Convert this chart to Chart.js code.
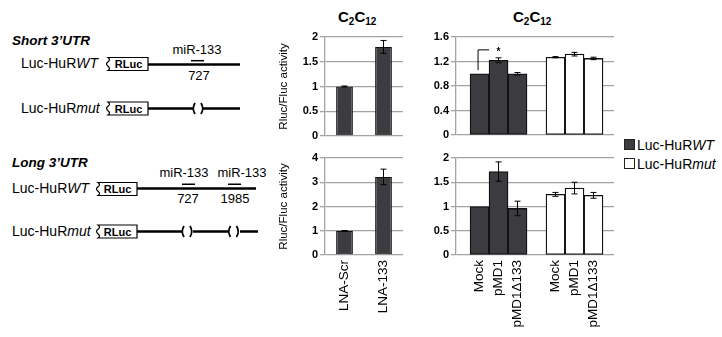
<!DOCTYPE html>
<html>
<head>
<meta charset="utf-8">
<script src="https://cdn.jsdelivr.net/npm/chart.js@4.4.1/dist/chart.umd.min.js"></script>
<style>
  body { margin: 0; background: #fff; font-family: "Liberation Sans", Arial, Helvetica, sans-serif; }
  #fig { position: relative; width: 722px; height: 337px; overflow: hidden; }
  #fig canvas, #fig svg, .title, .legend { position: absolute; }
  .title { font-size: 15px; font-weight: bold; line-height: 15px; top: 9px; }
  .title sub { font-size: 10px; vertical-align: -3px; line-height: 0; }
  .legend { left: 624px; top: 136px; font-size: 14px; line-height: 19px; white-space: nowrap; }
  .sw { display: inline-block; width: 9px; height: 9px; border: 1px solid #222; margin-right: 2px; vertical-align: baseline; }
  .sw.dark { background: #3c3c40; }
  svg text { font-family: "Liberation Sans", Arial, Helvetica, sans-serif; }
</style>
</head>
<body>
<div id="fig">
  <svg width="275" height="337" viewBox="0 0 275 337">
    <g fill="#000">
      <text x="12" y="45" font-size="13.5" font-weight="bold" font-style="italic">Short 3’UTR</text>
      <text x="21" y="68" font-size="14">Luc-HuR<tspan font-style="italic">WT</tspan></text>
      <text x="21" y="113" font-size="14">Luc-HuR<tspan font-style="italic">mut</tspan></text>
      <text x="197" y="54" font-size="13" text-anchor="middle">miR-133</text>
      <text x="199" y="80" font-size="13" text-anchor="middle">727</text>

      <text x="12" y="167" font-size="13.5" font-weight="bold" font-style="italic">Long 3’UTR</text>
      <text x="12" y="193" font-size="14">Luc-HuR<tspan font-style="italic">WT</tspan></text>
      <text x="12" y="236" font-size="14">Luc-HuR<tspan font-style="italic">mut</tspan></text>
      <text x="184" y="177" font-size="13" text-anchor="middle">miR-133</text>
      <text x="242" y="177" font-size="13" text-anchor="middle">miR-133</text>
      <text x="188" y="203" font-size="13" text-anchor="middle">727</text>
      <text x="235" y="203" font-size="13" text-anchor="middle">1985</text>
    </g>
    <g fill="none" stroke="#000">
      <!-- short WT -->
      <path d="M148,64.5 H240" stroke-width="2.5"/>
      <path d="M191,60.7 H204" stroke-width="1.5"/>
      <!-- short mut -->
      <path d="M148,108.5 H193 M203,108.5 H240" stroke-width="2.5"/>
      <path d="M195,103 Q191.5,108.5 195,114 M201,103 Q204.5,108.5 201,114" stroke-width="1.8"/>
      <!-- long WT -->
      <path d="M137,188.5 H256" stroke-width="2.5"/>
      <path d="M182,184.3 H195 M228,184.3 H241" stroke-width="1.5"/>
      <!-- long mut -->
      <path d="M137,231.5 H182 M193,231.5 H229 M240,231.5 H258" stroke-width="2.5"/>
      <path d="M184,226 Q180.5,231.5 184,237 M190,226 Q193.5,231.5 190,237 M230.5,226 Q227,231.5 230.5,237 M236.5,226 Q240,231.5 236.5,237" stroke-width="1.8"/>
    </g>
    <g fill="#fff" stroke="#000" stroke-width="1.2">
      <path d="M148,57.5 H108 q3,2.2 0,4.3 q-3,2.2 0,4.4 q3,2.2 0,4.3 H148 Z"/>
      <path d="M148,102 H108 q3,2.2 0,4.3 q-3,2.2 0,4.4 q3,2.2 0,4.3 H148 Z"/>
      <path d="M137,182.5 H98 q3,2.2 0,4.3 q-3,2.2 0,4.4 q3,2.2 0,4.3 H137 Z"/>
      <path d="M137,225 H98 q3,2.2 0,4.3 q-3,2.2 0,4.4 q3,2.2 0,4.3 H137 Z"/>
    </g>
    <g fill="#000" font-size="11" font-weight="bold" text-anchor="middle">
      <text x="128.5" y="68">RLuc</text>
      <text x="128.5" y="112.5">RLuc</text>
      <text x="117.5" y="193">RLuc</text>
      <text x="117.5" y="235.5">RLuc</text>
    </g>
  </svg>

  <div class="title" style="left:338px">C<sub>2</sub>C<sub>12</sub></div>
  <div class="title" style="left:513px">C<sub>2</sub>C<sub>12</sub></div>

  <canvas id="lnaShort" width="135" height="112" style="left:275px;top:28px"></canvas>
  <canvas id="lnaLong" width="135" height="187" style="left:275px;top:150px"></canvas>
  <canvas id="mdShort" width="215" height="112" style="left:405px;top:28px"></canvas>
  <canvas id="mdLong" width="215" height="187" style="left:405px;top:150px"></canvas>

  <div class="legend">
    <div><span class="sw dark"></span>Luc-HuR<i>WT</i></div>
    <div><span class="sw"></span>Luc-HuR<i>mut</i></div>
  </div>
</div>

<script>
// LNA panels (middle column)
const lnaLabels = ['LNA-Scr', 'LNA-133'];
const lnaShortValues = [1.0, 1.8];
const lnaShortErrors = [0.01, 0.13];
const lnaLongValues = [1.0, 3.22];
const lnaLongErrors = [0.01, 0.32];
const lnaShortTicks = [0, 0.5, 1, 1.5, 2];
const lnaLongTicks = [0, 1, 2, 3, 4];

// pMD1 panels (right column): WT group then mut group
const treatments = ['Mock', 'pMD1', 'pMD1\u0394133'];
const shortWT = [1.0, 1.22, 1.0];
const shortWTErr = [0, 0.04, 0.02];
const shortMut = [1.27, 1.32, 1.25];
const shortMutErr = [0.01, 0.03, 0.02];
const longWT = [1.0, 1.72, 0.96];
const longWTErr = [0, 0.2, 0.15];
const longMut = [1.25, 1.38, 1.23];
const longMutErr = [0.04, 0.12, 0.06];
const mdShortTicks = [0, 0.4, 0.8, 1.2, 1.6];
const mdLongTicks = [0, 0.5, 1, 1.5, 2];

const DARK = '#3c3c40';
const EDGE = '#111';
const GRID = '#a3a3a3';

Chart.defaults.font.family = '"Liberation Sans", Arial, Helvetica, sans-serif';
Chart.defaults.color = '#000';
Chart.defaults.animation = false;
Chart.defaults.plugins.legend.display = false;
Chart.defaults.plugins.tooltip.enabled = false;

// slot index for each bar: three bars, one empty slot, three bars
const slots = [];
const slotLabels = [];
[0, 1].forEach(g => treatments.forEach((t, i) => {
  slots.push(g * (treatments.length + 1) + i + 1);
  slotLabels.push(t);
}));
const slotColors = slots.map((s, k) => k < treatments.length ? DARK : '#fff');

function fixSize(size) {
  return s => {
    if (s.isHorizontal()) s.height = size; else s.width = size;
    s.paddingTop = s.paddingBottom = s.paddingLeft = s.paddingRight = 0;
  };
}

function yAxis(ticks, width, title) {
  return {
    min: ticks[0],
    max: ticks[ticks.length - 1],
    afterBuildTicks: s => { s.ticks = ticks.map(v => ({ value: v })); },
    afterFit: fixSize(width),
    border: { color: GRID, width: 1.3 },
    grid: { color: GRID, lineWidth: 1.3, tickLength: 5 },
    ticks: { font: { size: 11, weight: 'bold' }, padding: 2, callback: v => String(v) },
    title: title
      ? { display: true, text: title, font: { size: 11.5 }, padding: { top: 2, bottom: 0 } }
      : { display: false }
  };
}

const labelTicks = {
  font: { size: 13.5, lineHeight: 1 },
  padding: 5,
  minRotation: 90,
  maxRotation: 90,
  autoSkip: false
};

const errorBars = {
  id: 'errorBars',
  afterDatasetsDraw(chart) {
    const { ctx, scales: { y } } = chart;
    chart.data.datasets.forEach((ds, di) => {
      if (!ds.errors) return;
      chart.getDatasetMeta(di).data.forEach((bar, i) => {
        const e = ds.errors[i];
        if (!e) return;
        const raw = ds.data[i];
        const v = typeof raw === 'object' ? raw.y : raw;
        const top = y.getPixelForValue(v + e);
        const bot = y.getPixelForValue(v - e);
        ctx.save();
        ctx.strokeStyle = '#000';
        ctx.lineWidth = 1;
        ctx.beginPath();
        ctx.moveTo(bar.x, top); ctx.lineTo(bar.x, bot);
        ctx.moveTo(bar.x - 3, top); ctx.lineTo(bar.x + 3, top);
        ctx.moveTo(bar.x - 3, bot); ctx.lineTo(bar.x + 3, bot);
        ctx.stroke();
        ctx.restore();
      });
    });
  }
};

// significance bracket between two bars, given in data units
const bracket = {
  id: 'bracket',
  afterDatasetsDraw(chart, args, opts) {
    if (!opts || opts.from === undefined) return;
    const { ctx, scales: { y } } = chart;
    const bars = chart.getDatasetMeta(0).data;
    const a = bars[opts.from], b = bars[opts.to];
    const yTop = y.getPixelForValue(opts.level);
    const yBase = y.getPixelForValue(opts.base);
    ctx.save();
    ctx.strokeStyle = '#000';
    ctx.lineWidth = 1;
    ctx.beginPath();
    ctx.moveTo(a.x - 1.5, yBase);
    ctx.lineTo(a.x - 1.5, yTop);
    ctx.lineTo(b.x - b.width / 2, yTop);
    ctx.stroke();
    ctx.fillStyle = '#000';
    ctx.font = 'bold 10px "Liberation Sans", Arial';
    ctx.textAlign = 'center';
    ctx.textBaseline = 'middle';
    ctx.fillText('*', b.x, yTop + 2);
    ctx.restore();
  }
};

function lnaChart(id, values, errors, ticks, withLabels, padTop, padBottom) {
  new Chart(document.getElementById(id), {
    type: 'bar',
    data: {
      labels: lnaLabels,
      datasets: [{
        data: values,
        errors: errors,
        backgroundColor: DARK,
        borderColor: EDGE,
        borderWidth: 1.2,
        borderSkipped: false,
        categoryPercentage: 1,
        barPercentage: 0.43
      }]
    },
    options: {
      responsive: false,
      layout: { padding: { left: 0, right: 7, top: padTop, bottom: padBottom } },
      scales: {
        x: withLabels
          ? { afterFit: fixSize(82), grid: { display: false, drawTicks: false }, border: { display: false }, ticks: labelTicks }
          : { display: false },
        y: yAxis(ticks, 50, 'Rluc/Fluc activity')
      }
    },
    plugins: [errorBars]
  });
}

function mdChart(id, wt, wtErr, mut, mutErr, ticks, withLabels, padTop, padBottom, sig) {
  const values = wt.concat(mut);
  const x = {
    type: 'linear',
    offset: false,
    min: -0.24,
    max: 8.08,
    afterBuildTicks: s => { s.ticks = slots.map(v => ({ value: v })); },
    grid: { display: false, drawTicks: false },
    border: { display: false },
    ticks: Object.assign({}, labelTicks, { callback: v => slotLabels[slots.indexOf(v)] })
  };
  if (withLabels) x.afterFit = fixSize(82); else x.display = false;
  new Chart(document.getElementById(id), {
    type: 'bar',
    data: {
      datasets: [{
        data: slots.map((s, k) => ({ x: s, y: values[k] })),
        errors: wtErr.concat(mutErr),
        backgroundColor: slotColors,
        borderColor: EDGE,
        borderWidth: 1.3,
        borderSkipped: false,
        categoryPercentage: 1,
        barPercentage: 1
      }]
    },
    options: {
      responsive: false,
      layout: { padding: { left: 0, right: 6, top: padTop, bottom: padBottom } },
      scales: { x: x, y: yAxis(ticks, 51, null) },
      plugins: { bracket: sig || {} }
    },
    plugins: [errorBars, bracket]
  });
}

lnaChart('lnaShort', lnaShortValues, lnaShortErrors, lnaShortTicks, false, 9, 4);
lnaChart('lnaLong', lnaLongValues, lnaLongErrors, lnaLongTicks, true, 8, 0);
mdChart('mdShort', shortWT, shortWTErr, shortMut, shortMutErr, mdShortTicks, false, 9, 5,
  { from: 0, to: 1, base: 1.06, level: 1.39 });
mdChart('mdLong', longWT, longWTErr, longMut, longMutErr, mdLongTicks, true, 8, 0);
</script>
</body>
</html>
